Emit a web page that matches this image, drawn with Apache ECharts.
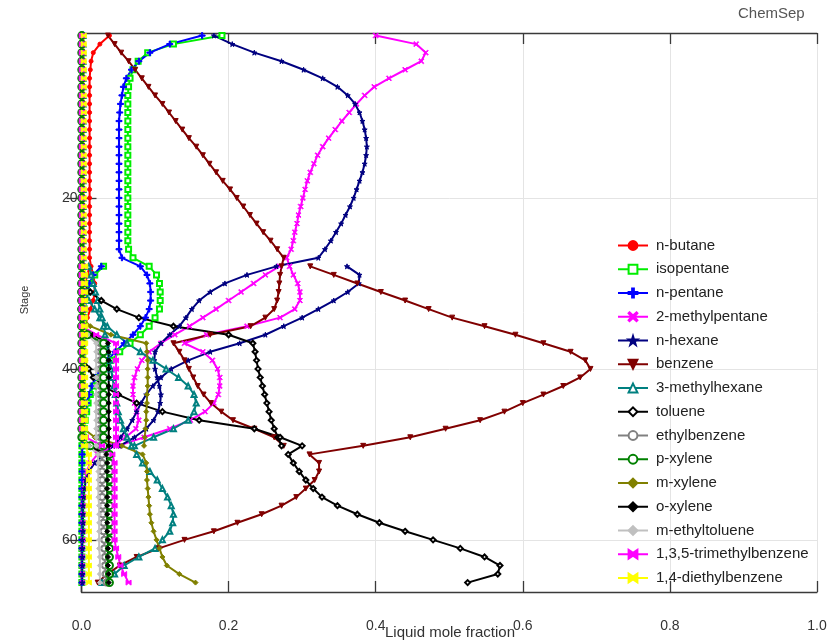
<!DOCTYPE html>
<html>
<head>
<meta charset="utf-8">
<script src="https://cdn.jsdelivr.net/npm/echarts@6/dist/echarts.min.js"></script>
<style>
  html, body { margin: 0; padding: 0; background: #ffffff; }
  #chart { width: 840px; height: 640px; }
</style>
</head>
<body>
<div id="chart"></div>
<script>
// Liquid composition profiles of a divided column.
// Upper branch: stages 1-49, lower branch: stages 28-65.
function range(a, b) { const r = []; for (let s = a; s <= b; s++) r.push(s); return r; }
const stagesUpper = range(1, 49);
const stagesLower = range(28, 65);

const xTicks = [0, 0.2, 0.4, 0.6, 0.8, 1.0];
const stageTicks = [20, 40, 60];

const nButaneA = [
  0.038,0.025,0.016,0.013,0.012,
  0.011,0.011,0.011,0.011,0.011,
  0.011,0.011,0.011,0.011,0.011,
  0.011,0.011,0.011,0.011,0.011,
  0.011,0.011,0.011,0.011,0.011,
  0.011,0.011,0.013,0.016,0.018,
  0.018,0.016,0.012,0.008,0.005,
  0.003,0.002,0.002,0.002,0.001,
  0.001,0.001,0.001,0.001,0.001,
  0.001,0.001,0.001,0.001];
const nButaneB = [
  0.011,0.008,0.005,
  0.003,0.002,0.002,0.001,0.001,
  0.001,0.001,0.001,0.001,0.001,
  0.001,0.001,0.001,0.0005,0.0005,
  0.0005,0.0005,0.0005,0.0005,0.0005,
  0.0005,0.0005,0.0005,0.0005,0.0005,
  0.0005,0.0005,0.0005,0.0005,0.0005,
  0.0005,0.0005,0.0005,0.0005,0.0005];

const isopentaneA = [
  0.191,0.125,0.09,0.077,0.07,
  0.066,0.064,0.063,0.063,0.063,
  0.063,0.063,0.063,0.063,0.063,
  0.063,0.063,0.063,0.063,0.063,
  0.063,0.063,0.063,0.063,0.063,
  0.064,0.07,0.092,0.102,0.106,
  0.107,0.107,0.106,0.1,0.092,
  0.08,0.066,0.052,0.04,0.03,
  0.022,0.016,0.012,0.009,0.007,
  0.005,0.004,0.003,0.002];
const isopentaneB = [
  0.03,0.018,0.012,
  0.008,0.005,0.004,0.003,0.003,
  0.002,0.002,0.002,0.002,0.001,
  0.001,0.001,0.001,0.001,0.001,
  0.001,0.001,0.001,0.0005,0.0005,
  0.0005,0.0005,0.0005,0.0005,0.0005,
  0.0005,0.0005,0.0005,0.0005,0.0005,
  0.0005,0.0005,0.0005,0.0005,0.0005];

const nPentaneA = [
  0.164,0.12,0.093,0.078,0.068,
  0.061,0.057,0.055,0.053,0.052,
  0.051,0.051,0.051,0.051,0.051,
  0.051,0.051,0.051,0.051,0.051,
  0.051,0.051,0.051,0.051,0.051,
  0.051,0.055,0.08,0.089,0.093,
  0.094,0.094,0.092,0.087,0.08,
  0.07,0.058,0.046,0.035,0.026,
  0.019,0.014,0.01,0.007,0.005,
  0.004,0.003,0.002,0.002];
const nPentaneB = [
  0.027,0.016,0.011,
  0.008,0.006,0.005,0.004,0.003,
  0.003,0.002,0.002,0.002,0.002,
  0.002,0.002,0.002,0.001,0.001,
  0.001,0.001,0.001,0.001,0.001,
  0.001,0.001,0.001,0.0005,0.0005,
  0.0005,0.0005,0.0005,0.0005,0.0005,
  0.0005,0.0005,0.0005,0.0005,0.0005];

const methylpentaneA = [
  0.40,0.455,0.468,0.462,0.44,
  0.418,0.398,0.385,0.374,0.364,
  0.354,0.345,0.336,0.328,0.321,
  0.316,0.311,0.307,0.304,0.301,
  0.298,0.295,0.293,0.29,0.288,
  0.285,0.279,0.283,0.288,0.294,
  0.297,0.297,0.29,0.27,0.225,
  0.17,0.14,0.165,0.178,0.185,
  0.188,0.188,0.186,0.18,0.168,
  0.148,0.12,0.085,0.05];
const methylpentaneB = [
  0.269,0.25,0.234,
  0.217,0.2,0.183,0.165,0.147,
  0.127,0.108,0.092,0.082,0.076,
  0.072,0.07,0.07,0.072,0.075,
  0.078,0.074,0.06,0.042,0.022,
  0.012,0.007,0.005,0.004,0.003,
  0.002,0.002,0.002,0.002,0.002,
  0.001,0.001,0.001,0.001,0.001];

const nHexaneA = [
  0.18,0.205,0.235,0.272,0.302,
  0.328,0.348,0.362,0.372,0.378,
  0.382,0.385,0.387,0.388,0.387,
  0.385,0.382,0.378,0.374,0.37,
  0.365,0.359,0.353,0.346,0.339,
  0.331,0.322,0.265,0.225,0.195,
  0.175,0.16,0.15,0.142,0.133,
  0.12,0.108,0.1,0.099,0.1,
  0.103,0.106,0.108,0.107,0.104,
  0.098,0.088,0.072,0.052];
const nHexaneB = [
  0.361,0.378,0.377,
  0.362,0.343,0.322,0.3,0.275,
  0.25,0.215,0.175,0.145,0.122,
  0.108,0.097,0.088,0.081,0.075,
  0.069,0.062,0.053,0.043,0.03,
  0.018,0.01,0.006,0.004,0.003,
  0.002,0.002,0.002,0.002,0.001,
  0.001,0.001,0.001,0.001,0.001];

const benzeneA = [
  0.036,0.045,0.054,0.064,0.073,
  0.082,0.091,0.1,0.11,0.119,
  0.128,0.137,0.146,0.156,0.165,
  0.174,0.183,0.192,0.202,0.211,
  0.22,0.229,0.238,0.247,0.257,
  0.266,0.275,0.272,0.27,0.269,
  0.268,0.266,0.262,0.25,0.23,
  0.175,0.125,0.133,0.14,0.146,
  0.152,0.158,0.166,0.176,0.19,
  0.206,0.235,0.262,0.275];
const benzeneB = [
  0.311,0.343,0.375,
  0.407,0.44,0.472,0.504,0.548,
  0.59,0.628,0.665,0.685,0.692,
  0.678,0.655,0.628,0.6,0.575,
  0.542,0.495,0.447,0.383,0.31,
  0.323,0.323,0.317,0.305,0.292,
  0.272,0.245,0.212,0.18,0.14,
  0.105,0.075,0.052,0.035,0.022];

const methylhexaneA = [
  0.002,0.002,0.002,0.002,0.002,
  0.002,0.002,0.002,0.002,0.002,
  0.002,0.002,0.002,0.002,0.002,
  0.002,0.002,0.002,0.002,0.002,
  0.002,0.002,0.002,0.002,0.002,
  0.002,0.002,0.002,0.002,0.002,
  0.005,0.01,0.018,0.025,0.035,
  0.048,0.062,0.08,0.097,0.115,
  0.132,0.145,0.153,0.156,0.153,
  0.145,0.125,0.098,0.072];
const methylhexaneB = [
  0.01,0.013,0.016,
  0.019,0.022,0.025,0.028,0.03,
  0.032,0.034,0.036,0.038,0.04,
  0.042,0.044,0.046,0.048,0.05,
  0.053,0.057,0.062,0.068,0.075,
  0.083,0.093,0.103,0.11,0.117,
  0.122,0.125,0.124,0.12,0.11,
  0.1,0.078,0.058,0.045,0.028];

const tolueneA = [
  0.001,0.001,0.001,0.001,0.001,
  0.001,0.001,0.001,0.001,0.001,
  0.001,0.001,0.001,0.001,0.001,
  0.001,0.001,0.001,0.001,0.001,
  0.001,0.001,0.001,0.001,0.001,
  0.001,0.001,0.001,0.001,0.001,
  0.012,0.027,0.048,0.078,0.125,
  0.2,0.233,0.236,0.238,0.24,
  0.243,0.246,0.249,0.252,0.255,
  0.258,0.262,0.267,0.272];
const tolueneB = [
  0.001,0.001,0.001,
  0.001,0.001,0.001,0.001,0.001,
  0.001,0.001,0.002,0.004,0.01,
  0.016,0.03,0.05,0.075,0.11,
  0.16,0.235,0.27,0.3,0.281,
  0.288,0.296,0.305,0.315,0.327,
  0.348,0.375,0.405,0.44,0.478,
  0.515,0.548,0.569,0.566,0.525];

const ethylbenzeneA = [
  0.0008,0.0008,0.0008,0.0008,0.0008,
  0.0008,0.0008,0.0008,0.0008,0.0008,
  0.0008,0.0008,0.0008,0.0008,0.0008,
  0.0008,0.0008,0.0008,0.0008,0.0008,
  0.0008,0.0008,0.0008,0.0008,0.0008,
  0.0008,0.0008,0.0008,0.0008,0.0008,
  0.0008,0.0008,0.0008,0.0008,0.0008,
  0.01,0.026,0.026,0.026,0.026,
  0.026,0.026,0.026,0.026,0.026,
  0.026,0.026,0.026,0.026];
const ethylbenzeneB = [
  0.0008,0.0008,0.0008,
  0.0008,0.0008,0.0008,0.0008,0.0008,
  0.0008,0.0008,0.0008,0.0008,0.0008,
  0.0008,0.0008,0.0008,0.0008,0.0008,
  0.0008,0.0008,0.0008,0.012,0.028,
  0.028,0.028,0.028,0.028,0.028,
  0.029,0.029,0.03,0.03,0.031,
  0.031,0.032,0.032,0.033,0.034];

const pXyleneA = [
  0.0004,0.0004,0.0004,0.0004,0.0004,
  0.0004,0.0004,0.0004,0.0004,0.0004,
  0.0004,0.0004,0.0004,0.0004,0.0004,
  0.0004,0.0004,0.0004,0.0004,0.0004,
  0.0004,0.0004,0.0004,0.0004,0.0004,
  0.0004,0.0004,0.0004,0.0004,0.0004,
  0.0004,0.0004,0.0004,0.0004,0.0004,
  0.008,0.03,0.03,0.03,0.03,
  0.03,0.03,0.03,0.03,0.03,
  0.03,0.03,0.03,0.03];
const pXyleneB = [
  0.0004,0.0004,0.0004,
  0.0004,0.0004,0.0004,0.0004,0.0004,
  0.0004,0.0004,0.0004,0.0004,0.0004,
  0.0004,0.0004,0.0004,0.0004,0.0004,
  0.0004,0.0004,0.0004,0.012,0.038,
  0.038,0.038,0.038,0.038,0.038,
  0.038,0.038,0.038,0.038,0.038,
  0.038,0.038,0.038,0.038,0.038];

const mXyleneA = [
  0.0005,0.0005,0.0005,0.0005,0.0005,
  0.0005,0.0005,0.0005,0.0005,0.0005,
  0.0005,0.0005,0.0005,0.0005,0.0005,
  0.0005,0.0005,0.0005,0.0005,0.0005,
  0.0005,0.0005,0.0005,0.0005,0.0005,
  0.0005,0.0005,0.0005,0.0005,0.0005,
  0.0005,0.0005,0.0005,0.0005,0.012,
  0.04,0.088,0.089,0.09,0.09,
  0.09,0.09,0.089,0.089,0.088,
  0.088,0.087,0.086,0.085];
const mXyleneB = [
  0.0005,0.0005,0.0005,
  0.0005,0.0005,0.0005,0.0005,0.0005,
  0.0005,0.0005,0.0005,0.0005,0.0005,
  0.0005,0.0005,0.0005,0.0005,0.0005,
  0.001,0.003,0.018,0.055,0.083,
  0.088,0.089,0.089,0.09,0.091,
  0.092,0.093,0.095,0.098,0.102,
  0.106,0.11,0.116,0.133,0.155];

const oXyleneA = [
  0.0003,0.0003,0.0003,0.0003,0.0003,
  0.0003,0.0003,0.0003,0.0003,0.0003,
  0.0003,0.0003,0.0003,0.0003,0.0003,
  0.0003,0.0003,0.0003,0.0003,0.0003,
  0.0003,0.0003,0.0003,0.0003,0.0003,
  0.0003,0.0003,0.0003,0.0003,0.0003,
  0.0003,0.0003,0.0003,0.0003,0.0003,
  0.015,0.036,0.037,0.037,0.037,
  0.037,0.037,0.037,0.037,0.037,
  0.037,0.037,0.037,0.037];
const oXyleneB = [
  0.0003,0.0003,0.0003,
  0.0003,0.0003,0.0003,0.0003,0.0003,
  0.0003,0.0003,0.0003,0.0003,0.0003,
  0.0003,0.0003,0.0003,0.0003,0.0003,
  0.0003,0.0003,0.0003,0.01,0.034,
  0.035,0.035,0.035,0.035,0.035,
  0.035,0.035,0.035,0.035,0.036,
  0.036,0.036,0.036,0.037,0.037];

const mEthyltolueneA = [
  0.0006,0.0006,0.0006,0.0006,0.0006,
  0.0006,0.0006,0.0006,0.0006,0.0006,
  0.0006,0.0006,0.0006,0.0006,0.0006,
  0.0006,0.0006,0.0006,0.0006,0.0006,
  0.0006,0.0006,0.0006,0.0006,0.0006,
  0.0006,0.0006,0.0006,0.0006,0.0006,
  0.0006,0.0006,0.0006,0.0006,0.0006,
  0.008,0.02,0.02,0.02,0.02,
  0.02,0.02,0.02,0.02,0.02,
  0.02,0.02,0.02,0.02];
const mEthyltolueneB = [
  0.0006,0.0006,0.0006,
  0.0006,0.0006,0.0006,0.0006,0.0006,
  0.0006,0.0006,0.0006,0.0006,0.0006,
  0.0006,0.0006,0.0006,0.0006,0.0006,
  0.0006,0.0006,0.0006,0.01,0.022,
  0.023,0.023,0.023,0.023,0.023,
  0.024,0.024,0.024,0.024,0.024,
  0.024,0.025,0.025,0.025,0.025];

const tmbA = [
  0.0003,0.0003,0.0003,0.0003,0.0003,
  0.0003,0.0003,0.0003,0.0003,0.0003,
  0.0003,0.0003,0.0003,0.0003,0.0003,
  0.0003,0.0003,0.0003,0.0003,0.0003,
  0.0003,0.0003,0.0003,0.0003,0.0003,
  0.0003,0.0003,0.0003,0.0003,0.0003,
  0.0003,0.0003,0.0003,0.0003,0.0003,
  0.02,0.047,0.047,0.047,0.047,
  0.047,0.047,0.047,0.047,0.047,
  0.047,0.047,0.047,0.047];
const tmbB = [
  0.0003,0.0003,0.0003,
  0.0003,0.0003,0.0003,0.0003,0.0003,
  0.0003,0.0003,0.0003,0.0003,0.0003,
  0.0003,0.0003,0.0003,0.0003,0.0003,
  0.0003,0.0003,0.006,0.028,0.042,
  0.045,0.045,0.045,0.045,0.045,
  0.045,0.045,0.045,0.045,0.045,
  0.047,0.05,0.053,0.058,0.064];

const debA = [
  0.003,0.003,0.003,0.003,0.003,
  0.003,0.003,0.003,0.003,0.003,
  0.003,0.003,0.003,0.003,0.003,
  0.003,0.003,0.003,0.003,0.003,
  0.003,0.003,0.003,0.003,0.003,
  0.003,0.003,0.003,0.003,0.003,
  0.003,0.003,0.003,0.003,0.003,
  0.003,0.003,0.003,0.003,0.003,
  0.003,0.003,0.003,0.003,0.003,
  0.003,0.003,0.003,0.003];
const debB = [
  0.005,0.005,0.005,
  0.005,0.005,0.005,0.005,0.005,
  0.005,0.005,0.005,0.005,0.005,
  0.005,0.005,0.005,0.005,0.005,
  0.005,0.005,0.005,0.005,0.01,
  0.01,0.01,0.01,0.01,0.01,
  0.01,0.01,0.01,0.01,0.01,
  0.01,0.01,0.01,0.01,0.01];

// marker shapes
const SYM_PLUS = 'path://M4,0 H6 V4 H10 V6 H6 V10 H4 V6 H0 V4 H4 Z';
const SYM_CROSS = 'path://M1,0 L5,3.6 L9,0 L10,1 L6.4,5 L10,9 L9,10 L5,6.4 L1,10 L0,9 L3.6,5 L0,1 Z';
const SYM_STAR = 'path://M5,0 L6.2,3.8 L10,3.8 L7,6.2 L8.1,10 L5,7.6 L1.9,10 L3,6.2 L0,3.8 L3.8,3.8 Z';
const SYM_TRI_DOWN = 'path://M0,0 L10,0 L5,9 Z';
const SYM_BOWTIE = 'path://M0,0 L5,3.5 L10,0 L10,10 L5,6.5 L0,10 Z';

const components = [
  { name: 'n-butane', color: '#ff0000', symbol: 'circle', size: 4, upper: nButaneA, lower: nButaneB },
  { name: 'isopentane', color: '#00ee00', symbol: 'emptyRect', size: 5, upper: isopentaneA, lower: isopentaneB },
  { name: 'n-pentane', color: '#0000ff', symbol: SYM_PLUS, size: 6, upper: nPentaneA, lower: nPentaneB },
  { name: '2-methylpentane', color: '#ff00ff', symbol: SYM_CROSS, size: 5, upper: methylpentaneA, lower: methylpentaneB },
  { name: 'n-hexane', color: '#000080', symbol: SYM_STAR, size: 5, upper: nHexaneA, lower: nHexaneB },
  { name: 'benzene', color: '#800000', symbol: SYM_TRI_DOWN, size: 5, upper: benzeneA, lower: benzeneB },
  { name: '3-methylhexane', color: '#008080', symbol: 'emptyTriangle', size: 5, upper: methylhexaneA, lower: methylhexaneB },
  { name: 'toluene', color: '#000000', symbol: 'emptyDiamond', size: 5, upper: tolueneA, lower: tolueneB },
  { name: 'ethylbenzene', color: '#808080', symbol: 'emptyCircle', size: 6, upper: ethylbenzeneA, lower: ethylbenzeneB },
  { name: 'p-xylene', color: '#008000', symbol: 'emptyCircle', size: 7, upper: pXyleneA, lower: pXyleneB },
  { name: 'm-xylene', color: '#808000', symbol: 'diamond', size: 5, upper: mXyleneA, lower: mXyleneB },
  { name: 'o-xylene', color: '#000000', symbol: 'diamond', size: 5, upper: oXyleneA, lower: oXyleneB },
  { name: 'm-ethyltoluene', color: '#c0c0c0', symbol: 'diamond', size: 5, upper: mEthyltolueneA, lower: mEthyltolueneB },
  { name: '1,3,5-trimethylbenzene', color: '#ff00ff', symbol: SYM_BOWTIE, size: 5, upper: tmbA, lower: tmbB },
  { name: '1,4-diethylbenzene', color: '#ffff00', symbol: SYM_BOWTIE, size: 5, upper: debA, lower: debB }
];

function profilePoints(upper, lower) {
  const pts = upper.map((x, i) => [x, stagesUpper[i]]);
  pts.push(['-', '-']);
  lower.forEach((x, i) => pts.push([x, stagesLower[i]]));
  return pts;
}

const FONT = 'Liberation Sans, Arial, sans-serif';
const AXIS_COLOR = '#3a3a3a';
const GRID_COLOR = '#e4e4e4';

const series = components.map((c) => ({
  type: 'line',
  name: c.name,
  data: profilePoints(c.upper, c.lower),
  xAxisIndex: 0,
  yAxisIndex: 0,
  symbol: c.symbol,
  symbolSize: c.size,
  showSymbol: true,
  connectNulls: false,
  lineStyle: { color: c.color, width: 2 },
  itemStyle: { color: c.color, borderColor: c.color, borderWidth: 1 },
  emphasis: { disabled: true },
  animation: false
}));

const chart = echarts.init(document.getElementById('chart'), null, { renderer: 'canvas' });
chart.setOption({
  backgroundColor: '#ffffff',
  animation: false,
  textStyle: { fontFamily: FONT },
  grid: { left: 81.5, right: 23, top: 33, bottom: 48, containLabel: false },
  xAxis: [
    {
      type: 'value', position: 'bottom', min: xTicks[0], max: xTicks[xTicks.length - 1], interval: 0.2,
      axisLine: { show: true, lineStyle: { color: AXIS_COLOR, width: 1.3 } },
      axisTick: { show: true, inside: true, length: 11, lineStyle: { color: AXIS_COLOR, width: 1.3 } },
      axisLabel: { margin: 27, fontSize: 14, color: '#333', fontFamily: FONT, formatter: (v) => v.toFixed(1) },
      splitLine: { show: true, lineStyle: { color: GRID_COLOR, width: 1 } }
    },
    {
      type: 'value', position: 'top', min: xTicks[0], max: xTicks[xTicks.length - 1], interval: 0.2,
      axisLine: { show: true, lineStyle: { color: AXIS_COLOR, width: 1.3 } },
      axisTick: { show: true, inside: true, length: 11, lineStyle: { color: AXIS_COLOR, width: 1.3 } },
      axisLabel: { show: false },
      splitLine: { show: false }
    }
  ],
  yAxis: [
    {
      type: 'value', position: 'left', inverse: true, min: 0.7, max: 66.1,
      axisLine: { show: true, lineStyle: { color: AXIS_COLOR, width: 1.3 } },
      axisTick: { show: true, inside: true, length: 15, customValues: stageTicks, lineStyle: { color: AXIS_COLOR, width: 1.3 } },
      axisLabel: { show: true, customValues: stageTicks, margin: 4, fontSize: 14, color: '#333', fontFamily: FONT },
      splitLine: { show: true, lineStyle: { color: GRID_COLOR, width: 1 } }
    },
    {
      type: 'value', position: 'right', inverse: true, min: 0.7, max: 66.1,
      axisLine: { show: true, lineStyle: { color: AXIS_COLOR, width: 1.3 } },
      axisTick: { show: true, inside: true, length: 15, customValues: stageTicks, lineStyle: { color: AXIS_COLOR, width: 1.3 } },
      axisLabel: { show: false },
      splitLine: { show: false }
    }
  ],
  legend: {
    orient: 'vertical',
    left: 612,
    top: 233,
    itemWidth: 30,
    itemHeight: 11,
    itemGap: 8.75,
    selectedMode: false,
    textStyle: { fontSize: 15, color: '#222', fontFamily: FONT, padding: [0, 0, 0, 3] },
    data: components.map((c) => c.name)
  },
  graphic: [
    { type: 'text', left: 738, top: 6, style: { text: 'ChemSep', fill: '#555', font: '15px ' + FONT } },
    { type: 'text', x: 25, y: 300, rotation: Math.PI / 2, style: { text: 'Stage', fill: '#333', font: '11px ' + FONT, align: 'center', verticalAlign: 'middle' } },
    { type: 'text', x: 450, y: 633, style: { text: 'Liquid mole fraction', fill: '#333', font: '15px ' + FONT, align: 'center', verticalAlign: 'middle' } }
  ],
  series: series
});
</script>
</body>
</html>
